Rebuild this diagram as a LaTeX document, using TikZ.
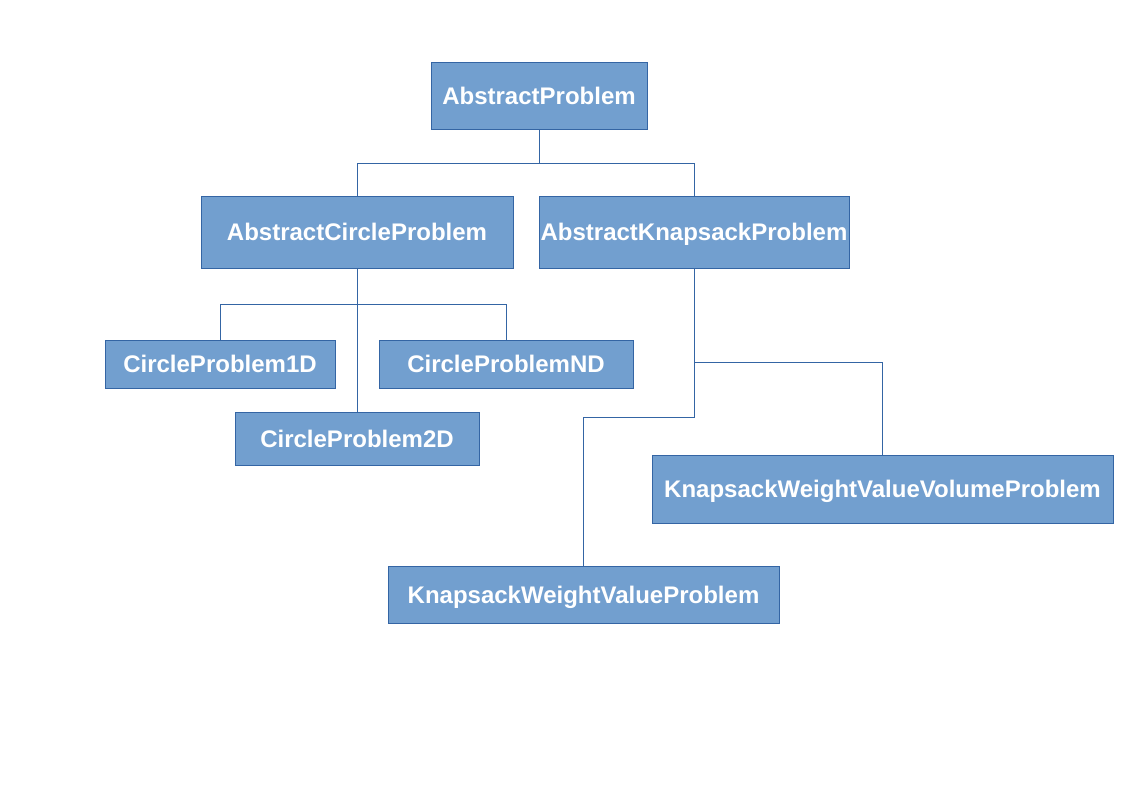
\documentclass[tikz,border=0pt]{standalone}
\usepackage{fontspec}
\setmainfont{Liberation Sans}
\usetikzlibrary{positioning}
\definecolor{boxfill}{RGB}{114,159,207}
\definecolor{boxline}{RGB}{52,101,164}
\begin{document}
\begin{tikzpicture}[x=0.75pt,y=-0.75pt,
  classbox/.style={draw=boxline, fill=boxfill, line width=0.75pt, inner sep=0pt,
    text height=12.9pt, text depth=0pt,
    text=white, font=\fontsize{18}{22}\selectfont\bfseries},
  link/.style={draw=boxline, line width=0.75pt}]

\useasboundingbox (0,0) rectangle (1123,794);

\node[classbox, minimum width=162pt, minimum height=50.25pt] (ap) at (539,95.5) {AbstractProblem};
\node[classbox, minimum width=234pt, minimum height=54pt] (acp) at (357,232) {AbstractCircleProblem};
\node[classbox, minimum width=232.5pt, minimum height=54pt] (akp) at (694,232) {AbstractKnapsackProblem};
\node[classbox, minimum width=172.5pt, minimum height=36pt] (cp1d) at (220,364) {CircleProblem1D};
\node[classbox, minimum width=190.5pt, minimum height=36pt] (cpnd) at (506,364) {CircleProblemND};
\node[classbox, minimum width=183pt, minimum height=39.75pt] (cp2d) at (357,438.5) {CircleProblem2D};
\node[classbox, minimum width=345.75pt, minimum height=51pt] (kwvv) at (882.5,489) {KnapsackWeightValueVolumeProblem};
\node[classbox, minimum width=293.25pt, minimum height=42.75pt] (kwv) at (583.5,594.5) {KnapsackWeightValueProblem};

% AbstractProblem
\draw[link] (ap.south) -- ++(0,34) -| (acp.north);
\draw[link] (ap.south) -- ++(0,34) -| (akp.north);

% circle problems
\draw[link] (acp.south) -- ++(0,36) -| (cp1d.north);
\draw[link] (acp.south) -- ++(0,36) -| (cpnd.north);
\draw[link] (acp.south) -- (cp2d.north);

% knapsack problems
\draw[link] (akp.south) -- ++(0,94) -| (kwvv.north);
\draw[link] (akp.south) -- ++(0,149) -| (kwv.north);

\end{tikzpicture}
\end{document}
